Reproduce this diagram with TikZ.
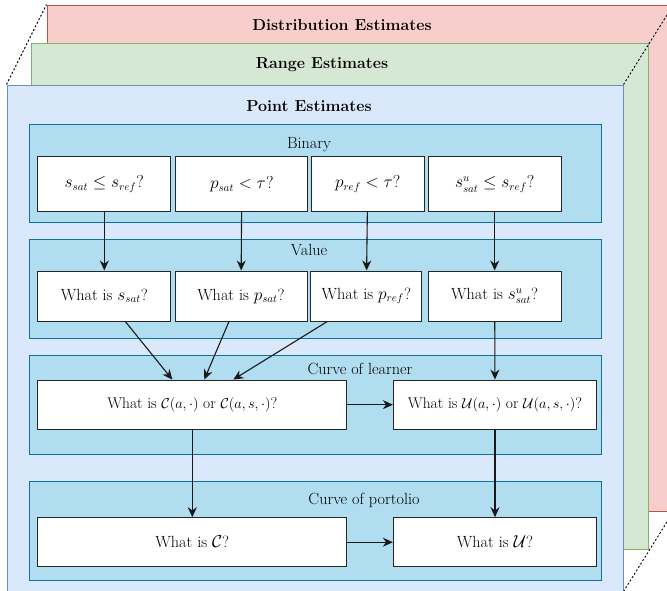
\documentclass[tikz,border=0pt]{standalone}
\usepackage{amsmath,amssymb}
\usepackage{xcolor}
\usetikzlibrary{arrows.meta}
\definecolor{distfill}{HTML}{F8CECC}
\definecolor{distline}{HTML}{B85450}
\definecolor{rangefill}{HTML}{D5E8D4}
\definecolor{rangeline}{HTML}{82B366}
\definecolor{pointfill}{HTML}{DAE8FC}
\definecolor{pointline}{HTML}{6C8EBF}
\definecolor{groupfill}{HTML}{B1DDF0}
\definecolor{groupline}{HTML}{10739E}
\tikzset{
  layer/.style={draw, inner sep=0pt, line width=1pt},
  group/.style={draw=groupline, fill=groupfill, inner sep=0pt, line width=1pt},
  query/.style={draw=black!85, fill=white, inner sep=0pt, line width=1pt},
  flow/.style={-{Stealth[length=10pt,width=9pt]}, line width=1.1pt, black!90},
}

\begin{document}
\begin{tikzpicture}[x=1pt,y=-1pt,font=\fontsize{16.2}{19}\selectfont]
			\useasboundingbox (0,0) rectangle (667,590);
			% stacked layers
			\node[layer,draw=distline,fill=distfill,minimum width=626,minimum height=506] (dist) at (360,258) {};
			\node[layer,draw=rangeline,fill=rangefill,minimum width=617,minimum height=506] (range) at (339.5,296) {};
			\node[layer,draw=pointline,fill=pointfill,minimum width=616,minimum height=506] (point) at (315,338) {};
			\node[font=\fontsize{16}{19}\selectfont\bfseries] (distT) at (342,25) {Distribution Estimates};
			\node[font=\fontsize{16}{19}\selectfont\bfseries] (rangeT) at (322,65) {Range Estimates};
			\node[font=\fontsize{16}{19}\selectfont\bfseries] (pointT) at (309,106) {Point Estimates};
			\draw[dash pattern=on 2pt off 2pt,line width=0.9pt] (point.north west) -- (dist.north west);
			\draw[dash pattern=on 2pt off 2pt,line width=0.9pt] (point.north east) -- (dist.north east);
			\draw[dash pattern=on 2pt off 2pt,line width=0.9pt] (point.south east) -- (dist.south east);

			% groups
			\node[group,minimum width=572,minimum height=98.7] (binary) at (315,173.4) {};
			\node[group,minimum width=572,minimum height=98.7] (value) at (315,288.7) {};
			\node[group,minimum width=572,minimum height=99.3] (learner) at (315,404.7) {};
			\node[group,minimum width=572,minimum height=99] (portfolio) at (315,530.5) {};
			\node (binaryT) at (309,145) {Binary};
			\node (valueT) at (309,250) {Value};
			\node (learnerT) at (360,369) {Curve of learner};
			\node (portfolioT) at (364,500) {Curve of portolio};

			% binary questions
			\node[query,minimum width=132.7,minimum height=55] (b1) at (104.3,184.2) {$s_{sat} \leq s_{ref}?$};
			\node[query,minimum width=132.3,minimum height=55] (b2) at (241.8,184.2) {$p_{sat} < \tau?$};
			\node[query,minimum width=113.3,minimum height=55] (b3) at (367.7,184.2) {$p_{ref} < \tau?$};
			\node[query,minimum width=132.7,minimum height=55] (b4) at (494.7,184.2) {$s^{u}_{sat} \leq s_{ref}?$};
			% value questions
			\node[query,minimum width=132.7,minimum height=50] (v1) at (104.3,296) {What is $s_{sat}$?};
			\node[query,minimum width=132,minimum height=50] (v2) at (241,296) {What is $p_{sat}$?};
			\node[query,minimum width=110.7,minimum height=50] (v3) at (366.3,296) {What is $p_{ref}$?};
			\node[query,minimum width=132.7,minimum height=50] (v4) at (494.7,296) {What is $s^{u}_{sat}$?};
			% curves
			\node[query,font=\fontsize{15.5}{18}\selectfont,minimum width=308.7,minimum height=49.3] (c1) at (192.3,404.7) {What is $\mathcal{C}(a,\cdot)$ or $\mathcal{C}(a,s,\cdot)$?};
			\node[query,font=\fontsize{15.5}{18}\selectfont,minimum width=203.3,minimum height=49.3] (c2) at (495,404.7) {What is $\mathcal{U}(a,\cdot)$ or $\mathcal{U}(a,s,\cdot)$?};
			\node[query,minimum width=308.7,minimum height=49] (p1) at (192.3,542.2) {What is $\mathcal{C}$?};
			\node[query,minimum width=203.3,minimum height=49] (p2) at (495,542.2) {What is $\mathcal{U}$?};

			\draw[flow] (b1) -- (v1);
			\draw[flow] (b2) -- (v2);
			\draw[flow] (b3) -- (v3);
			\draw[flow] (b4) -- (v4);
			\draw[flow] ([xshift=21]v1.south) -- ([xshift=-20]c1.north);
			\draw[flow] ([xshift=-12]v2.south) -- ([xshift=12]c1.north);
			\draw[flow] ([xshift=-39]v3.south) -- ([xshift=41]c1.north);
			\draw[flow] (v4) -- (c2);
			\draw[flow] (c1) -- (c2);
			\draw[flow] (c1) -- (p1);
			\draw[flow] (c2) -- (p2);
			\draw[flow] (p1) -- (p2);
\end{tikzpicture}
\end{document}
